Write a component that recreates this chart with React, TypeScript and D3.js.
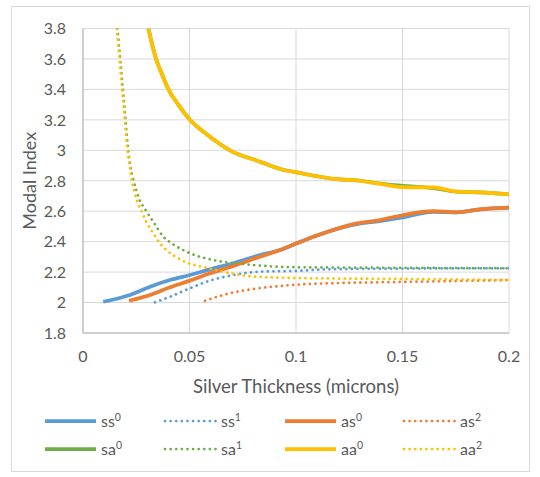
import React, { useEffect, useRef } from "react";
import * as d3 from "d3";

type Pt = [number, number];

const xTicks = [0, 0.05, 0.1, 0.15, 0.2];
const yTicks = [1.8, 2, 2.2, 2.4, 2.6, 2.8, 3, 3.2, 3.4, 3.6, 3.8];

const ss0: Pt[] = [
  [0.0095, 2.005], [0.022, 2.05], [0.0315, 2.104], [0.0408, 2.148], [0.0502, 2.181],
  [0.0596, 2.218], [0.0706, 2.258], [0.0831, 2.312], [0.0925, 2.345], [0.1003, 2.389],
  [0.1128, 2.455], [0.1285, 2.515], [0.1394, 2.535], [0.1504, 2.56], [0.1645, 2.595],
  [0.1755, 2.593], [0.1864, 2.612], [0.2, 2.623],
];
const ss1: Pt[] = [
  [0.0338, 2.002], [0.0408, 2.038], [0.0502, 2.094], [0.0596, 2.144], [0.0706, 2.181],
  [0.0831, 2.203], [0.1, 2.208], [0.1144, 2.218], [0.15, 2.223], [0.2, 2.225],
];
const as0: Pt[] = [
  [0.0216, 2.012], [0.0315, 2.05], [0.0408, 2.1], [0.0502, 2.144], [0.0596, 2.192],
  [0.0706, 2.24], [0.0831, 2.301], [0.0925, 2.345], [0.1003, 2.389], [0.1128, 2.455],
  [0.1285, 2.52], [0.1394, 2.542], [0.1504, 2.575], [0.1645, 2.6], [0.1755, 2.593],
  [0.1864, 2.612], [0.2, 2.623],
];
const as2: Pt[] = [
  [0.0573, 2.012], [0.0675, 2.056], [0.08, 2.089], [0.0925, 2.109], [0.1058, 2.122],
  [0.1144, 2.126], [0.1394, 2.133], [0.17, 2.14], [0.2, 2.148],
];
const sa0: Pt[] = [
  [0.0307, 3.8], [0.0343, 3.6], [0.0369, 3.506], [0.0401, 3.4], [0.0448, 3.298],
  [0.0502, 3.2], [0.0596, 3.089], [0.069, 3.0], [0.0831, 2.925], [0.0925, 2.877],
  [0.1003, 2.855], [0.1191, 2.81], [0.13, 2.8], [0.1394, 2.782], [0.152, 2.765],
  [0.1645, 2.752], [0.1755, 2.728], [0.1864, 2.724], [0.2, 2.711],
];
const sa1: Pt[] = [
  [0.0162, 3.8], [0.0181, 3.5], [0.02, 3.2], [0.021, 3.03], [0.0222, 2.9],
  [0.0236, 2.809], [0.026, 2.695], [0.0299, 2.597], [0.033, 2.531], [0.0377, 2.433],
  [0.0416, 2.389], [0.0463, 2.35], [0.0515, 2.317], [0.0627, 2.275], [0.0753, 2.253],
  [0.1, 2.232], [0.15, 2.228], [0.2, 2.225],
];
const aa0: Pt[] = [
  [0.0307, 3.8], [0.0343, 3.6], [0.0369, 3.506], [0.0401, 3.4], [0.0448, 3.298],
  [0.0502, 3.2], [0.0596, 3.089], [0.069, 3.0], [0.0831, 2.925], [0.0925, 2.877],
  [0.1003, 2.855], [0.1191, 2.81], [0.13, 2.8], [0.1394, 2.779], [0.152, 2.757],
  [0.1645, 2.757], [0.1755, 2.728], [0.1864, 2.724], [0.2, 2.711],
];
const aa2: Pt[] = [
  [0.0158, 3.8], [0.0177, 3.5], [0.0196, 3.2], [0.0205, 3.046], [0.0216, 2.925],
  [0.0232, 2.783], [0.0255, 2.662], [0.0276, 2.597], [0.0299, 2.525], [0.033, 2.455],
  [0.0362, 2.389], [0.04, 2.334], [0.044, 2.297], [0.0487, 2.262], [0.055, 2.238],
  [0.0612, 2.218], [0.0737, 2.181], [0.0862, 2.166], [0.105, 2.16], [0.15, 2.155],
  [0.2, 2.148],
];

interface Series {
  base: string;
  sup: string;
  color: string;
  dotted: boolean;
  data: Pt[];
}

const blue = "#5B9BD5";
const orange = "#ED7D31";
const green = "#70AD47";
const yellow = "#FFC000";

const series: Series[] = [
  { base: "ss", sup: "0", color: blue, dotted: false, data: ss0 },
  { base: "ss", sup: "1", color: blue, dotted: true, data: ss1 },
  { base: "as", sup: "0", color: orange, dotted: false, data: as0 },
  { base: "as", sup: "2", color: orange, dotted: true, data: as2 },
  { base: "sa", sup: "0", color: green, dotted: false, data: sa0 },
  { base: "sa", sup: "1", color: green, dotted: true, data: sa1 },
  { base: "aa", sup: "0", color: yellow, dotted: false, data: aa0 },
  { base: "aa", sup: "2", color: yellow, dotted: true, data: aa2 },
];

const W = 540;
const H = 477;
const plot = { left: 83, right: 509, top: 28.5, bottom: 333 };
const font = "Lato, 'Open Sans', sans-serif";
const textColor = "#595959";

const App = () => {
  const ref = useRef<SVGSVGElement>(null);

  useEffect(() => {
    const svg = d3.select(ref.current);
    svg.selectAll("*").remove();

    const x = d3.scaleLinear().domain([0, 0.2]).range([plot.left, plot.right]);
    const y = d3.scaleLinear().domain([1.8, 3.8]).range([plot.bottom, plot.top]);

    // chart border
    svg
      .append("rect")
      .attr("x", 11.5)
      .attr("y", 6.5)
      .attr("width", 518)
      .attr("height", 465)
      .attr("fill", "#fff")
      .attr("stroke", "#d9d9d9");

    svg
      .append("defs")
      .append("clipPath")
      .attr("id", "plot-clip")
      .append("rect")
      .attr("x", plot.left)
      .attr("y", plot.top)
      .attr("width", plot.right - plot.left)
      .attr("height", plot.bottom - plot.top);

    // gridlines
    svg
      .append("g")
      .selectAll("line")
      .data(yTicks.slice(1))
      .enter()
      .append("line")
      .attr("x1", plot.left)
      .attr("x2", plot.right)
      .attr("y1", (d) => y(d))
      .attr("y2", (d) => y(d))
      .attr("stroke", "#d9d9d9")
      .attr("stroke-width", 1);
    svg
      .append("g")
      .selectAll("line")
      .data(xTicks.slice(1))
      .enter()
      .append("line")
      .attr("x1", (d) => x(d))
      .attr("x2", (d) => x(d))
      .attr("y1", plot.top)
      .attr("y2", plot.bottom)
      .attr("stroke", "#d9d9d9")
      .attr("stroke-width", 1);

    // axis lines
    svg
      .append("line")
      .attr("x1", plot.left)
      .attr("x2", plot.left)
      .attr("y1", plot.top)
      .attr("y2", plot.bottom)
      .attr("stroke", "#bfbfbf")
      .attr("stroke-width", 1.5);
    svg
      .append("line")
      .attr("x1", plot.left)
      .attr("x2", plot.right)
      .attr("y1", plot.bottom)
      .attr("y2", plot.bottom)
      .attr("stroke", "#bfbfbf")
      .attr("stroke-width", 1.5);

    // tick labels
    svg
      .append("g")
      .selectAll("text")
      .data(yTicks)
      .enter()
      .append("text")
      .text((d) => d3.format("~g")(d))
      .attr("x", 66)
      .attr("y", (d) => y(d))
      .attr("dy", "0.36em")
      .attr("text-anchor", "end")
      .attr("font-family", font)
      .attr("font-size", 16)
      .attr("fill", textColor);
    svg
      .append("g")
      .selectAll("text")
      .data(xTicks)
      .enter()
      .append("text")
      .text((d) => d3.format("~g")(d))
      .attr("x", (d) => x(d))
      .attr("y", 361.5)
      .attr("text-anchor", "middle")
      .attr("font-family", font)
      .attr("font-size", 16)
      .attr("fill", textColor);

    // axis titles
    svg
      .append("text")
      .text("Silver Thickness (microns)")
      .attr("x", (plot.left + plot.right) / 2)
      .attr("y", 392.5)
      .attr("text-anchor", "middle")
      .attr("font-family", font)
      .attr("font-size", 18.5)
      .attr("fill", textColor);
    svg
      .append("text")
      .text("Modal Index")
      .attr("transform", `translate(35.5,${(plot.top + plot.bottom) / 2}) rotate(-90)`)
      .attr("text-anchor", "middle")
      .attr("font-family", font)
      .attr("font-size", 18)
      .attr("fill", textColor);

    // series
    const line = d3
      .line<Pt>()
      .x((d) => x(d[0]))
      .y((d) => y(d[1]))
      .curve(d3.curveMonotoneX);
    const lines = svg.append("g").attr("clip-path", "url(#plot-clip)");
    series.forEach((s) => {
      lines
        .append("path")
        .attr("d", line(s.data))
        .attr("fill", "none")
        .attr("stroke", s.color)
        .attr("stroke-width", s.dotted ? 2.75 : 3.75)
        .attr("stroke-linecap", s.dotted ? "round" : "butt")
        .attr("stroke-dasharray", s.dotted ? "0.01 5.6" : null)
        .attr("stroke-linejoin", "round");
    });

    // legend
    const colX = [45, 165, 285, 404];
    const rowY = [421, 449];
    series.forEach((s, i) => {
      const cx = colX[i % 4];
      const cy = rowY[Math.floor(i / 4)];
      svg
        .append("line")
        .attr("x1", cx)
        .attr("x2", cx + 51)
        .attr("y1", cy)
        .attr("y2", cy)
        .attr("stroke", s.color)
        .attr("stroke-width", s.dotted ? 2.75 : 3.75)
        .attr("stroke-linecap", s.dotted ? "round" : "butt")
        .attr("stroke-dasharray", s.dotted ? "0.01 5.6" : null);
      const t = svg
        .append("text")
        .attr("x", cx + 56)
        .attr("y", cy + 5.5)
        .attr("font-family", font)
        .attr("font-size", 16)
        .attr("fill", textColor);
      t.append("tspan").text(s.base);
      t.append("tspan").text(s.sup).attr("font-size", 10.5).attr("dy", -6);
    });
  }, []);

  return (
    <svg
      ref={ref}
      width={W}
      height={H}
      style={{ position: "absolute", left: 0, top: 0 }}
    ></svg>
  );
};

export default App;
